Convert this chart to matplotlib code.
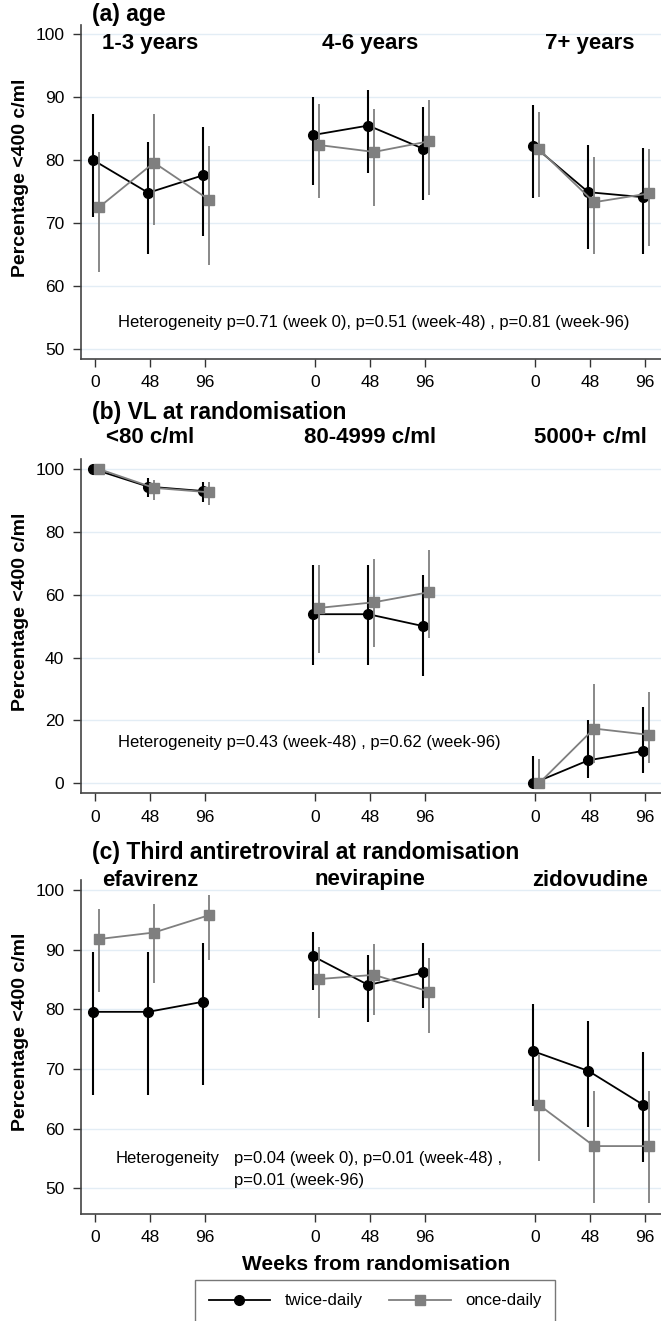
import matplotlib
matplotlib.use('Agg')
import matplotlib.pyplot as plt
from matplotlib.lines import Line2D
from matplotlib.transforms import blended_transform_factory

W, H = 661, 1321

weeks = [0, 48, 96]
week_labels = ['0', '48', '96']

# (a) age
age_groups = ['1-3 years', '4-6 years', '7+ years']
age_twice = [80.0, 74.8, 77.6, 84.0, 85.5, 81.8, 82.3, 74.9, 74.1]
age_twice_lo = [70.9, 65.0, 68.0, 76.1, 77.9, 73.7, 74.0, 65.8, 65.0]
age_twice_hi = [87.3, 82.9, 85.3, 90.0, 91.2, 88.4, 88.8, 82.4, 81.9]
age_once = [72.5, 79.6, 73.7, 82.4, 81.3, 83.0, 81.7, 73.3, 74.7]
age_once_lo = [62.2, 69.6, 63.3, 74.0, 72.7, 74.5, 74.1, 65.0, 66.4]
age_once_hi = [81.3, 87.4, 82.3, 89.0, 88.1, 89.6, 87.7, 80.5, 81.7]

# (b) VL at randomisation
vl_groups = ['<80 c/ml', '80-4999 c/ml', '5000+ c/ml']
vl_twice = [100.0, 94.4, 93.0, 53.8, 53.8, 50.0, 0.0, 7.3, 10.3]
vl_twice_lo = [100.0, 91.0, 89.5, 37.7, 37.7, 34.0, 0.0, 1.6, 3.2]
vl_twice_hi = [100.0, 97.0, 96.0, 69.5, 69.5, 66.3, 8.8, 20.2, 24.4]
vl_once = [100.0, 94.0, 92.6, 55.8, 57.6, 60.8, 0.0, 17.4, 15.4]
vl_once_lo = [100.0, 90.0, 88.6, 41.4, 43.3, 46.2, 0.0, 6.5, 6.4]
vl_once_hi = [100.0, 96.6, 95.8, 69.5, 71.3, 74.1, 7.7, 31.5, 28.9]

# (c) third antiretroviral
arv_groups = ['efavirenz', 'nevirapine', 'zidovudine']
arv_twice = [79.6, 79.6, 81.3, 88.9, 84.1, 86.2, 73.0, 69.7, 64.0]
arv_twice_lo = [65.6, 65.6, 67.3, 83.2, 77.9, 80.2, 63.8, 60.3, 54.4]
arv_twice_hi = [89.7, 89.7, 91.1, 93.0, 89.2, 91.1, 80.9, 78.0, 72.8]
arv_once = [91.8, 92.9, 95.8, 85.1, 85.8, 83.0, 64.0, 57.1, 57.1]
arv_once_lo = [83.0, 84.4, 88.3, 78.5, 79.1, 76.0, 54.6, 47.5, 47.5]
arv_once_hi = [96.9, 97.7, 99.2, 90.4, 90.9, 88.7, 72.5, 66.4, 66.4]

plt.rcParams['font.family'] = ['Liberation Sans', 'DejaVu Sans']

def fx(px):
    return px / W

def fy(py):
    return 1 - py / H

panels = [
    dict(title='(a) age', groups=age_groups, twice=age_twice, tlo=age_twice_lo, thi=age_twice_hi,
         once=age_once, olo=age_once_lo, ohi=age_once_hi, top=25, bottom=358.7,
         ylim=(48.4, 101.5), yticks=[50, 60, 70, 80, 90, 100], title_y=14, group_y=43,
         ylab_y=178),
    dict(title='(b) VL at randomisation', groups=vl_groups, twice=vl_twice, tlo=vl_twice_lo, thi=vl_twice_hi,
         once=vl_once, olo=vl_once_lo, ohi=vl_once_hi, top=459.3, bottom=793.3,
         ylim=(-3.2, 103.1), yticks=[0, 20, 40, 60, 80, 100], title_y=412, group_y=438,
         ylab_y=612),
    dict(title='(c) Third antiretroviral at randomisation', groups=arv_groups, twice=arv_twice,
         tlo=arv_twice_lo, thi=arv_twice_hi, once=arv_once, olo=arv_once_lo, ohi=arv_once_hi,
         top=880, bottom=1213.5, ylim=(45.8, 101.7), yticks=[50, 60, 70, 80, 90, 100],
         title_y=852, group_y=880, ylab_y=1032),
]

fig = plt.figure(figsize=(W / 100, H / 100), dpi=100)
black = '#000000'
grey = '#7f7f7f'

for p in panels:
    ax = fig.add_axes([fx(81), fy(p['bottom']), fx(661 - 81), (p['bottom'] - p['top']) / H])
    xpos = [g * 192 + w for g in range(3) for w in weeks]
    for g in range(3):
        sl = slice(3 * g, 3 * g + 3)
        xt = [x - 1.5 for x in xpos[sl]]
        xo = [x + 3.5 for x in xpos[sl]]
        ax.vlines(xt, p['tlo'][sl], p['thi'][sl], color=black, lw=1.5, zorder=3)
        ax.plot(xt, p['twice'][sl], color=black, lw=1.3, marker='o', ms=7, zorder=4)
        ax.vlines(xo, p['olo'][sl], p['ohi'][sl], color=grey, lw=1.3, zorder=5)
        ax.plot(xo, p['once'][sl], color=grey, lw=1.3, marker='s', ms=7, zorder=6)
    ax.set_xlim(-12.2, 493.9)
    ax.set_ylim(*p['ylim'])
    ax.set_xticks(xpos)
    ax.set_xticklabels(week_labels * 3)
    ax.set_yticks(p['yticks'])
    ax.tick_params(axis='both', labelsize=12.5, length=6, width=1, color='#333333', pad=6)
    for s in ['top', 'right']:
        ax.spines[s].set_visible(False)
    for s in ['left', 'bottom']:
        ax.spines[s].set_color('#444444')
        ax.spines[s].set_linewidth(1.2)
    ax.grid(axis='y', color='#e3edf5', lw=1)
    ax.set_axisbelow(True)
    trans = blended_transform_factory(ax.transData, fig.transFigure)
    for g, name in enumerate(p['groups']):
        ax.text(g * 192 + 48, fy(p['group_y']), name, transform=trans, ha='center', va='center',
                fontsize=16, fontweight='bold')
    fig.text(fx(92), fy(p['title_y']), p['title'], ha='left', va='center', fontsize=16.5,
             fontweight='bold')
    fig.text(fx(21), fy(p['ylab_y']), 'Percentage <400 c/ml', rotation=90, ha='center',
             va='center', fontsize=14, fontweight='bold')

fig.text(fx(374), fy(322), 'Heterogeneity p=0.71 (week 0), p=0.51 (week-48) , p=0.81 (week-96)',
         ha='center', va='center', fontsize=12)
fig.text(fx(118), fy(742), 'Heterogeneity p=0.43 (week-48) , p=0.62 (week-96)',
         ha='left', va='center', fontsize=12)
fig.text(fx(116), fy(1159), 'Heterogeneity', ha='left', va='center', fontsize=12)
fig.text(fx(234), fy(1159), 'p=0.04 (week 0), p=0.01 (week-48) ,', ha='left', va='center', fontsize=12)
fig.text(fx(234), fy(1180), 'p=0.01 (week-96)', ha='left', va='center', fontsize=12)

fig.text(fx(376), fy(1265), 'Weeks from randomisation', ha='center', va='center', fontsize=15,
         fontweight='bold')

handles = [Line2D([], [], color=black, lw=1.3, marker='o', ms=7),
           Line2D([], [], color=grey, lw=1.3, marker='s', ms=7)]
leg = fig.legend(handles, ['twice-daily', 'once-daily'], loc='upper center',
                 bbox_to_anchor=(fx(375), fy(1280)), ncol=2, frameon=True, fancybox=False,
                 edgecolor='#555555', fontsize=12, handlelength=3.7, columnspacing=1.6,
                 borderpad=0.8, handletextpad=0.85, borderaxespad=0)
leg.get_frame().set_linewidth(1.0)

fig.savefig('out.png', dpi=100)
